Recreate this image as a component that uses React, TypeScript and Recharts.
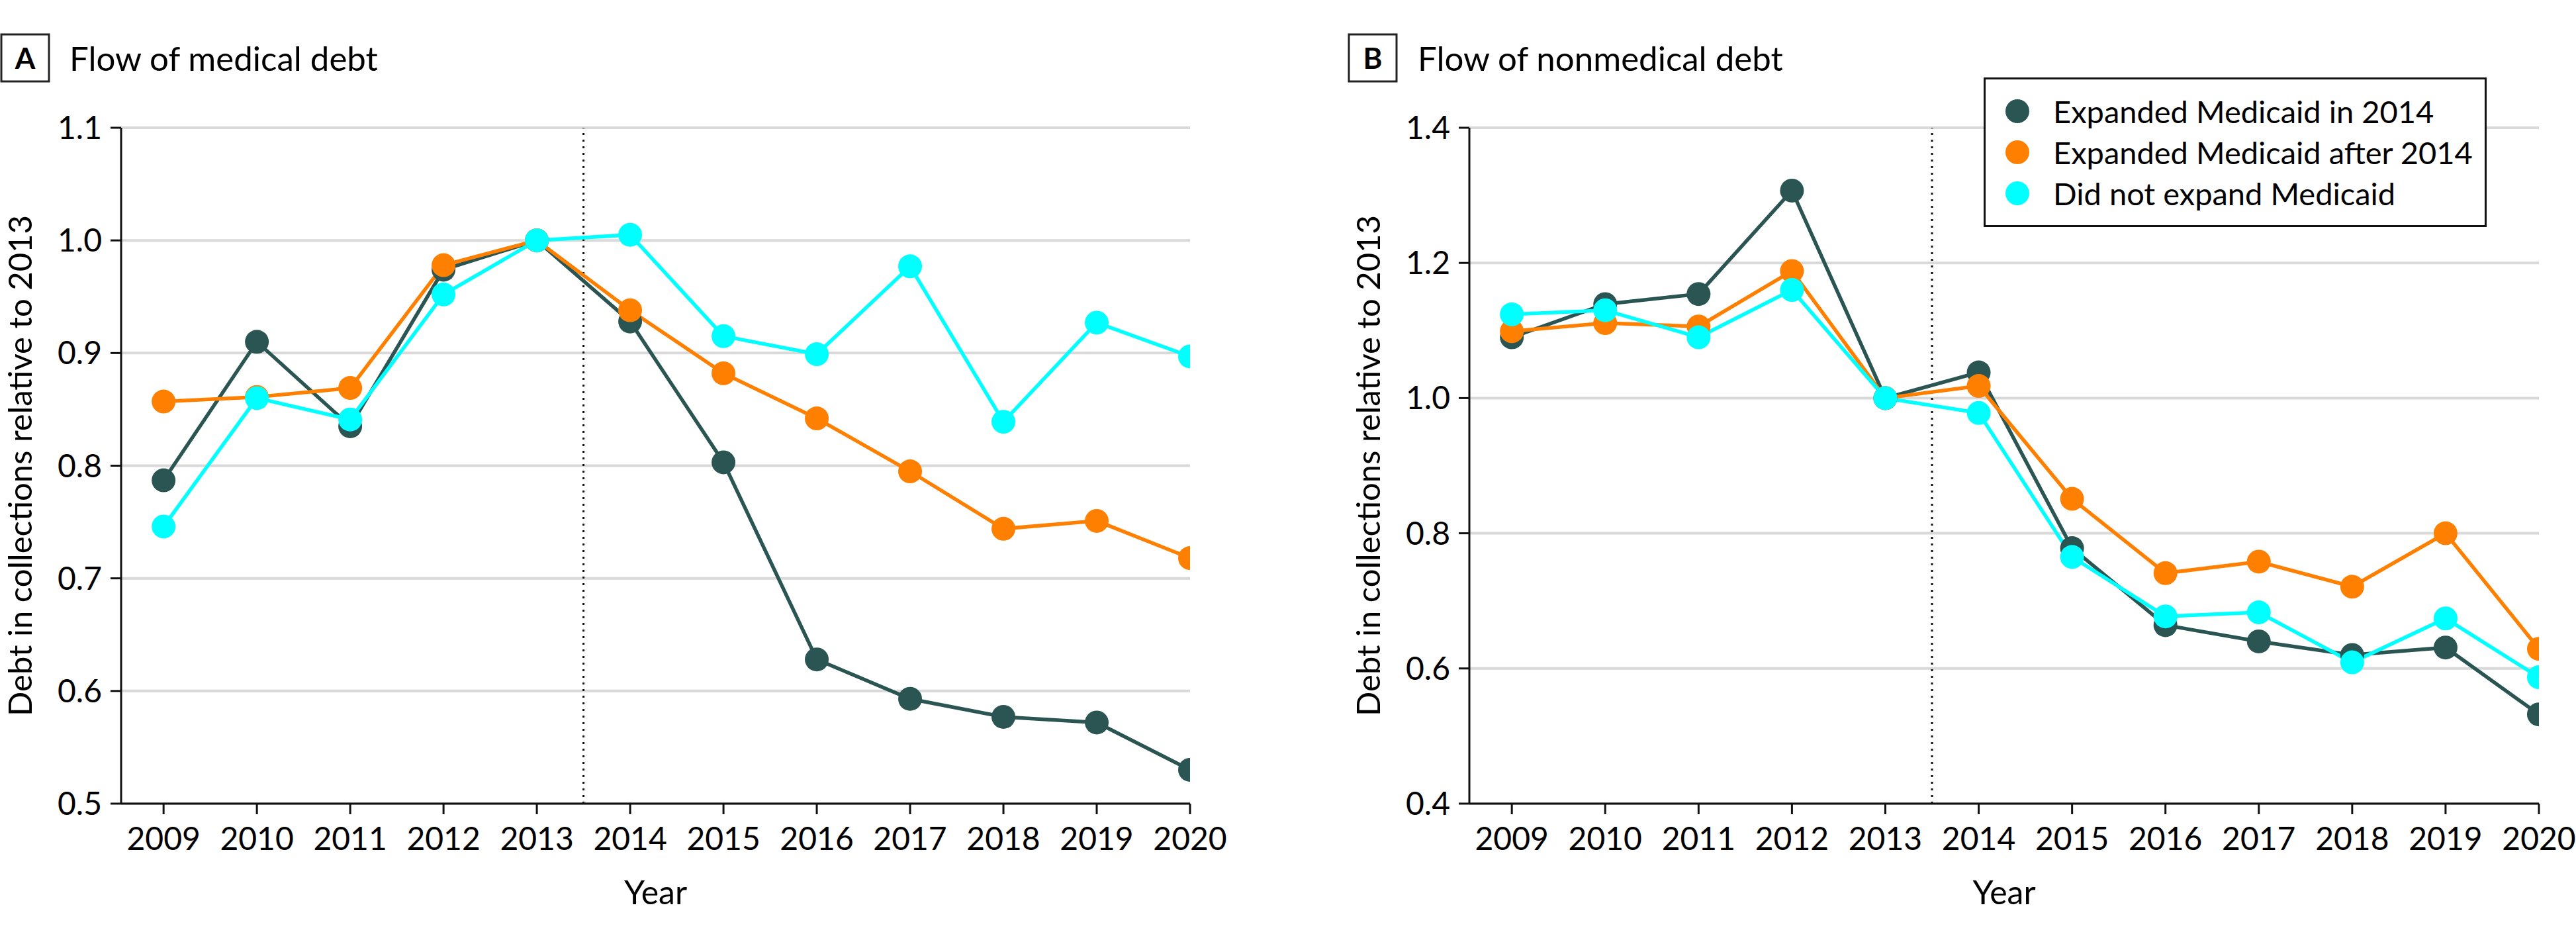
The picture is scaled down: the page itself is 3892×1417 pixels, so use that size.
import { CartesianGrid, Line, LineChart, ReferenceLine, XAxis, YAxis } from "recharts";

const years = [2009, 2010, 2011, 2012, 2013, 2014, 2015, 2016, 2017, 2018, 2019, 2020];

// Panel A: flow of medical debt
const medicalIn2014 = [0.787, 0.910, 0.835, 0.974, 1.0, 0.928, 0.803, 0.628, 0.593, 0.577, 0.572, 0.530];
const medicalAfter2014 = [0.857, 0.861, 0.869, 0.978, 1.0, 0.938, 0.882, 0.842, 0.795, 0.744, 0.751, 0.718];
const medicalNotExpanded = [0.746, 0.860, 0.841, 0.952, 1.0, 1.005, 0.915, 0.899, 0.977, 0.839, 0.927, 0.897];

// Panel B: flow of nonmedical debt
const nonmedicalIn2014 = [1.090, 1.139, 1.154, 1.307, 1.0, 1.038, 0.778, 0.664, 0.640, 0.620, 0.631, 0.532];
const nonmedicalAfter2014 = [1.099, 1.111, 1.106, 1.188, 1.0, 1.018, 0.851, 0.741, 0.758, 0.721, 0.800, 0.629];
const nonmedicalNotExpanded = [1.124, 1.130, 1.090, 1.160, 1.0, 0.978, 0.765, 0.677, 0.683, 0.609, 0.674, 0.587];

const medicalTicks = [0.5, 0.6, 0.7, 0.8, 0.9, 1.0, 1.1];
const nonmedicalTicks = [0.4, 0.6, 0.8, 1.0, 1.2, 1.4];

const seriesNames = ["Expanded Medicaid in 2014", "Expanded Medicaid after 2014", "Did not expand Medicaid"];
const seriesKeys = ["in2014", "after2014", "notExpanded"];
const seriesColors = ["#2B5553", "#FF8000", "#00FFFF"];

const FONT = "Lato, 'Open Sans', sans-serif";

function buildRows(a: number[], b: number[], c: number[]) {
  return years.map((year, i) => ({ year, in2014: a[i], after2014: b[i], notExpanded: c[i] }));
}

interface PanelProps {
  width: number
  rows: any[]
  ticks: number[]
  rightMargin: number
}

function Panel({ width, rows, ticks, rightMargin }: PanelProps) {
  const axisStyle = { stroke: "#111", strokeWidth: 3 };
  return (
    <LineChart width={width} height={1417} data={rows} margin={{ top: 193, right: rightMargin, left: 0, bottom: 0 }}>
      <CartesianGrid horizontal={true} vertical={false} stroke="#d9d9d9" strokeWidth={4} />
      <XAxis
        dataKey="year"
        type="number"
        domain={[2008.545, 2020]}
        ticks={years}
        allowDataOverflow
        height={203}
        tickSize={16}
        tickMargin={20}
        axisLine={axisStyle}
        tickLine={axisStyle}
        tick={{ fill: "#000", fontSize: 48, fontFamily: FONT }}
        label={{ value: "Year", position: "center", dy: 33, style: { fill: "#000", fontSize: 50, fontFamily: FONT } }}
      />
      <YAxis
        type="number"
        domain={[ticks[0], ticks[ticks.length - 1]]}
        ticks={ticks}
        width={183}
        tickSize={16}
        tickMargin={13}
        axisLine={axisStyle}
        tickLine={axisStyle}
        tickFormatter={(v) => Number(v).toFixed(1)}
        tick={{ fill: "#000", fontSize: 48, fontFamily: FONT }}
        label={{
          value: "Debt in collections relative to 2013",
          angle: -90,
          position: "center",
          dx: -61,
          style: { fill: "#000", fontSize: 49, fontFamily: FONT, textAnchor: "middle" }
        }}
      />
      <ReferenceLine x={2013.5} stroke="#111" strokeWidth={3} strokeDasharray="3 7" />
      {seriesKeys.map((key, i) => (
        <Line
          key={key}
          type="linear"
          dataKey={key}
          name={seriesNames[i]}
          stroke={seriesColors[i]}
          strokeWidth={5.5}
          dot={{ r: 18, fill: seriesColors[i], stroke: seriesColors[i], strokeWidth: 0 }}
          activeDot={false}
          isAnimationActive={false}
        />
      ))}
    </LineChart>
  )
}

export default function App() {
  const medicalRows = buildRows(medicalIn2014, medicalAfter2014, medicalNotExpanded);
  const nonmedicalRows = buildRows(nonmedicalIn2014, nonmedicalAfter2014, nonmedicalNotExpanded);

  return (
    <div style={{ position: "fixed", left: 0, top: 0, width: 3892, height: 1417, background: "#fff", fontFamily: FONT, overflow: "hidden" }}>
      <div style={{ position: "absolute", left: 0, top: 0 }}>
        <Panel width={1946} rows={medicalRows} ticks={medicalTicks} rightMargin={148} />
      </div>
      <div style={{ position: "absolute", left: 2037, top: 0 }}>
        <Panel width={1855} rows={nonmedicalRows} ticks={nonmedicalTicks} rightMargin={56} />
      </div>

      {/* panel titles */}
      <svg width={3892} height={1417} style={{ position: "absolute", left: 0, top: 0, pointerEvents: "none" }}>
        <rect x={2} y={52} width={72} height={71} fill="none" stroke="#222" strokeWidth={3} />
        <text x={38} y={104} textAnchor="middle" fontSize={44} fontWeight={700} fontFamily={FONT}>A</text>
        <text x={105} y={107} fontSize={51} fontFamily={FONT}>Flow of medical debt</text>
        <rect x={2038} y={52} width={72} height={71} fill="none" stroke="#222" strokeWidth={3} />
        <text x={2074} y={104} textAnchor="middle" fontSize={44} fontWeight={700} fontFamily={FONT}>B</text>
        <text x={2142} y={107} fontSize={51} fontFamily={FONT}>Flow of nonmedical debt</text>
      </svg>

      {/* legend */}
      <div style={{
        position: "absolute", left: 2997, top: 117, width: 760, height: 226, boxSizing: "border-box",
        border: "3px solid #111", background: "#fff", paddingTop: 17
      }}>
        {seriesNames.map((name, i) => (
          <div key={name} style={{ display: "flex", alignItems: "center", height: 62 }}>
            <span style={{ display: "inline-block", width: 36, height: 36, borderRadius: 18, background: seriesColors[i], marginLeft: 30 }} />
            <span style={{ marginLeft: 36, fontSize: 47, color: "#000", lineHeight: "62px" }}>{name}</span>
          </div>
        ))}
      </div>
    </div>
  )
}
